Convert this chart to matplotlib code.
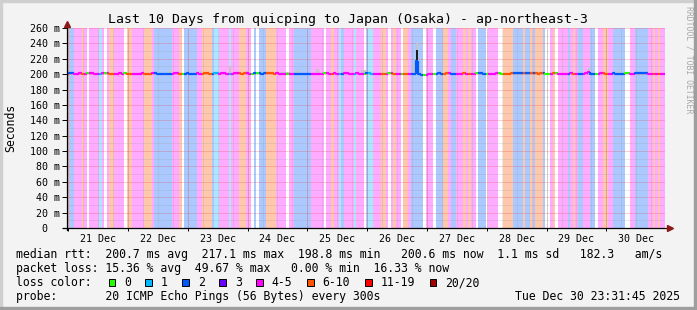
import numpy as np
import matplotlib
matplotlib.use("Agg")
import matplotlib.pyplot as plt
from matplotlib.collections import LineCollection
from matplotlib.patches import Rectangle
from matplotlib.colors import to_rgb

# hourly buckets, 20 Dec 23:31:45 -> 30 Dec 23:31:45
# loss code per hour: w=0, c=1, b=2, m=4-5, o=6-10
loss_codes = "".join([
    "obbmmmomwm", "mmmcmwmoom", "mmmwoommmm", "mooombbbbb", "bbmmmowbbb",
    "bbmmoooobc", "cmmmmcmmmo", "oommwbwbbb", "oooommmmwm", "mbbbbbbbmm",
    "mmmwmmommc", "bmmmmcmmmw", "bccmmmoomw", "mommwoombb", "bbbwmmmwbb",
    "boombbmmmo", "mommwbbbwm", "mmmwwoooob", "bbbobboboo", "obwwmowmmm",
    "mbmombbmmm", "bbwmmoommb", "bbbbwwmmbb", "bbbmmomomm",
])

# median rtt per hour (ms)
median_ms = [
    200.6, 200.9, 201.1, 200.8, 200.7, 201.0, 200.5, 200.6, 201.2, 201.0, 200.9, 200.4,
    200.3, 200.8, 200.9, 201.3, 200.9, 200.7, 200.5, 200.4, 200.6, 201.0, 200.8, 201.1,
    200.7, 200.5, 200.8, 200.6, 200.4, 200.7, 200.9, 200.3, 200.8, 200.6, 200.9, 201.0,
    200.7, 200.2, 200.4, 200.8, 200.5, 200.3, 200.6, 200.9, 201.0, 200.8, 200.3, 200.5,
    200.9, 200.6, 200.4, 200.8, 201.1, 200.7, 200.5, 200.9, 201.0, 200.6, 200.8, 201.2,
    201.0, 200.7, 200.9, 201.1, 200.6, 200.3, 200.8, 201.0, 201.2, 200.9, 200.7, 201.0,
    201.1, 200.8, 200.6, 200.9, 201.2, 201.0, 200.8, 201.1, 201.3, 201.2, 200.9, 200.8,
    201.0, 200.4, 200.2, 200.5, 200.3, 200.6, 200.4, 200.2, 200.6, 200.8, 200.5, 200.7,
    200.4, 200.6, 200.3, 200.5, 200.8, 200.6, 200.4, 200.9, 201.0, 200.7, 200.6, 200.9,
    200.8, 200.5, 200.7, 200.9, 201.1, 200.8, 200.6, 200.5, 200.9, 200.7, 200.6, 200.8,
    200.9, 201.1, 200.6, 200.5, 200.8, 200.6, 200.4, 200.3, 200.7, 200.9, 201.0, 200.6,
    200.8, 200.4, 200.6, 200.5, 200.3, 200.6, 200.4, 200.5, 217.1, 200.2, 199.4, 198.8,
    199.3, 200.0, 200.5, 200.8, 200.7, 201.0, 200.6, 200.4, 200.9, 201.0, 200.5, 200.3,
    200.8, 200.6, 200.5, 200.9, 200.7, 200.4, 200.6, 200.8, 201.0, 201.1, 200.9, 200.7,
    200.8, 200.6, 200.4, 200.7, 200.9, 201.0, 200.8, 200.6, 200.5, 200.7, 200.9, 201.1,
    201.2, 201.0, 200.9, 201.1, 201.3, 201.2, 201.0, 201.1, 200.9, 200.8, 201.0, 200.9,
    200.6, 200.5, 200.7, 200.9, 201.0, 200.6, 200.4, 200.6, 200.8, 200.7, 200.9, 200.6,
    200.5, 200.8, 200.7, 200.6, 200.9, 202.4, 200.8, 200.6, 200.5, 200.7, 200.9, 201.0,
    200.8, 200.6, 200.7, 200.9, 200.5, 200.2, 200.4, 200.8, 200.9, 201.0, 200.8, 200.6,
    200.9, 201.1, 201.0, 200.9, 201.2, 200.8, 200.6, 200.5, 200.7, 200.8, 200.6, 200.6,
]

# smoke (ping spread) where it sticks out above the median line
smoke_hours = [41, 53, 65, 72, 84, 85, 86, 87, 88, 89, 92, 100, 110, 118, 119, 121,
               139, 140, 144, 150, 209, 221]
smoke_lows = [200.5, 200.5, 200.5, 200.5, 200.5, 200.5, 200.5, 200.5, 200.5, 200.5, 200.5,
              200.5, 200.5, 200.5, 200.5, 200.5, 200.5, 200.0, 200.5, 200.5, 200.5, 200.5]
smoke_tops = [205, 204, 210, 204, 203, 203, 203, 203, 203, 203, 205, 207, 204, 205, 205, 203,
              214, 240, 205, 203, 208, 205]
core_hours = [140]
core_lows = [200.0]
core_tops = [232]

day_labels = ["21 Dec", "22 Dec", "23 Dec", "24 Dec", "25 Dec",
              "26 Dec", "27 Dec", "28 Dec", "29 Dec", "30 Dec"]
first_midnight = 0.47  # hours after graph start

legend_items = ["0", "1", "2", "3", "4-5", "6-10", "11-19", "20/20"]
legend_colors = ["#26ff00", "#00b8ff", "#0059ff", "#6a00ff", "#ff00ff", "#ff5500", "#ff0000", "#a10000"]

line_color = {"w": "#26ff00", "c": "#00b8ff", "b": "#0059ff", "p": "#6a00ff",
              "m": "#ff00ff", "o": "#ff5500", "r": "#ff0000", "d": "#a10000"}

MONO = "DejaVu Sans Mono"
W, H = 697, 310


def fx(px):
    return px / W


def fy(py):
    return 1 - py / H


def light(c):
    if c == "w":
        return (1, 1, 1)
    r, g, b = to_rgb(line_color[c])
    a = 0.33
    return (1 - a * (1 - r), 1 - a * (1 - g), 1 - a * (1 - b))


fig = plt.figure(figsize=(W / 100, H / 100), dpi=100, facecolor="#f3f3f3")
ax = fig.add_axes([fx(67), fy(228), 598 / W, 200 / H])
n = len(loss_codes)
ax.set_xlim(0, n)
ax.set_ylim(0, 260)
ax.set_facecolor("white")

hours = np.arange(n)
med = np.array(median_ms)

# loss background stripes
ax.bar(hours, 260, width=1.0, align="edge", color=[light(c) for c in loss_codes],
       linewidth=0, antialiased=False, zorder=0)

# grid
dots = (0, (1, 1.4))
for v in range(10, 260, 20):
    ax.axhline(v, color="#9a9a9a", lw=0.6, ls=dots, alpha=0.6, zorder=1)
for v in range(20, 261, 20):
    ax.axhline(v, color="#e05050", lw=0.6, ls=dots, alpha=0.75, zorder=1)
midnights = np.arange(first_midnight, n, 24)
for t in np.arange(first_midnight + 6, n, 6):
    if not np.isclose((t - first_midnight) % 24, 0):
        ax.axvline(t, color="#9a9a9a", lw=0.6, ls=dots, alpha=0.6, zorder=1)
for t in midnights:
    ax.axvline(t, color="#e05050", lw=0.6, ls=dots, alpha=0.75, zorder=1)

# smoke
sh = np.array(smoke_hours)
lo = np.array(smoke_lows)
ax.bar(sh, np.array(smoke_tops) - lo, bottom=lo, width=1.0,
       align="edge", color="#c4c4c4", linewidth=0, zorder=2)
ch = np.array(core_hours)
clo = np.array(core_lows)
ax.bar(ch + 0.5, np.array(core_tops) - clo, bottom=clo, width=0.5,
       align="center", color="#1e1e1e", linewidth=0, zorder=2.5)

# median line colored by loss
segs = []
prev = med[0]
for i, v in enumerate(med):
    segs.append([(i, prev), (i, v), (i + 1, v)])
    prev = v
ax.add_collection(LineCollection(segs, colors=[line_color[c] for c in loss_codes],
                                 linewidths=1.6, capstyle="butt", zorder=3))

# axes, ticks
for s in ax.spines.values():
    s.set_visible(False)
ax.set_yticks(range(0, 261, 20))
ax.set_yticklabels([f"{v} m" if v else "0  " for v in range(0, 261, 20)],
                   fontfamily=MONO, fontsize=7.2)
ax.tick_params(axis="y", length=3.5, width=0.7, pad=1.5, color="black")
ax.set_xticks(midnights + 12)
ax.set_xticklabels(day_labels, fontfamily=MONO, fontsize=7.2)
ax.set_xticks(midnights, minor=True)
ax.tick_params(axis="x", which="major", length=0, pad=4.5)
ax.tick_params(axis="x", which="minor", length=2.5, width=0.7, color="black")

ax.plot([-0.007, 1.005], [0, 0], color="black", lw=0.9, transform=ax.transAxes,
        clip_on=False, zorder=5)
ax.plot([0, 0], [-0.01, 1.015], color="black", lw=0.9, transform=ax.transAxes,
        clip_on=False, zorder=5)
ax.plot([1.009], [0], marker=">", color="#8b1a1a", markersize=4.2, transform=ax.transAxes,
        clip_on=False, zorder=6)
ax.plot([0], [1.022], marker="^", color="#8b1a1a", markersize=4.2, transform=ax.transAxes,
        clip_on=False, zorder=6)

fig.text(fx(10.5), fy(127.5), "Seconds", rotation=90, ha="center", va="center",
         fontfamily=MONO, fontsize=8.3)
fig.text(fx(347.5), fy(19), "Last 10 Days from quicping to Japan (Osaka) - ap-northeast-3",
         ha="center", va="center", fontfamily=MONO, fontsize=9.5)
fig.text(fx(688.5), fy(60), "RRDTOOL / TOBI OETIKER", rotation=270, ha="center",
         va="center", fontfamily=MONO, fontsize=5.9, color="#a8a8a8")

# legend
cw = 6.96
fig.text(fx(16), fy(254.5), "median rtt:  200.7 ms avg  217.1 ms max  198.8 ms min   "
         "200.6 ms now  1.1 ms sd   182.3   am/s", ha="left", va="center",
         fontfamily=MONO, fontsize=8.3)
fig.text(fx(16), fy(268.5), "packet loss: 15.36 % avg  49.67 % max   0.00 % min  16.33 % now",
         ha="left", va="center", fontfamily=MONO, fontsize=8.3)
fig.text(fx(16), fy(282.5), "loss color:", ha="left", va="center",
         fontfamily=MONO, fontsize=8.3)
lx = 124
for label, col in zip(legend_items, legend_colors):
    fig.add_artist(Rectangle((fx(lx - 15.5), fy(285.5)), 6.5 / W, 7 / H, facecolor=col,
                             edgecolor="black", lw=0.7, transform=fig.transFigure))
    fig.text(fx(lx), fy(282.5), label, ha="left", va="center", fontfamily=MONO, fontsize=8.3)
    lx += len(label) * cw + 30
fig.text(fx(16), fy(296.5), "probe:       20 ICMP Echo Pings (56 Bytes) every 300s",
         ha="left", va="center", fontfamily=MONO, fontsize=8.3)
fig.text(fx(680), fy(296.5), "Tue Dec 30 23:31:45 2025", ha="right", va="center",
         fontfamily=MONO, fontsize=8.3)

# 3d frame
fig.add_artist(Rectangle((0, 1 - 2 / H), 1, 2 / H, color="#cfcfcf", transform=fig.transFigure))
fig.add_artist(Rectangle((0, 0), 2 / W, 1, color="#cfcfcf", transform=fig.transFigure))
fig.add_artist(Rectangle((0, 0), 1, 3 / H, color="#9e9e9e", transform=fig.transFigure))
fig.add_artist(Rectangle((1 - 3 / W, 0), 3 / W, 1, color="#9e9e9e", transform=fig.transFigure))

fig.savefig("out.png", dpi=100, facecolor=fig.get_facecolor())
